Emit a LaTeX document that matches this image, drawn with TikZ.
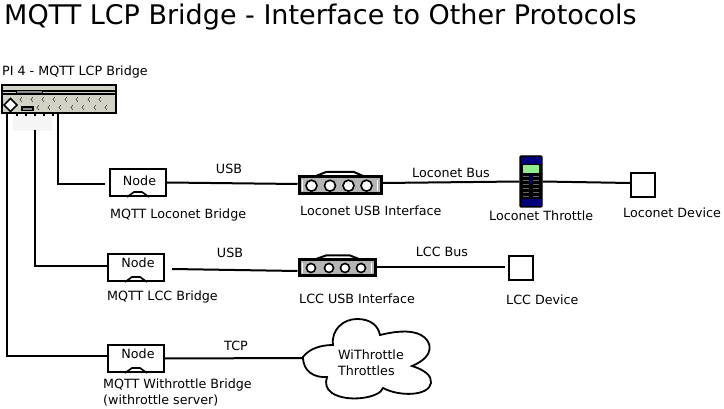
\documentclass[tikz,border=0pt]{standalone}
\usepackage{fontspec}
\setmainfont{DejaVu Sans}
\definecolor{panel}{HTML}{D3D3C5}
\definecolor{navy}{HTML}{00007F}
\definecolor{screen}{HTML}{90EE90}
\definecolor{mid}{HTML}{B4B4B4}
\tikzset{
  wire/.style={draw=black,line width=2pt},
  lbl/.style={inner sep=0pt,font=\fontsize{12.7pt}{16pt}\selectfont,text=black,align=left},
  nodebox/.style={draw=black,line width=2pt,fill=white,minimum width=56pt,minimum height=27pt,inner sep=0pt},
  devbox/.style={draw=black,line width=2pt,fill=white,minimum width=24pt,minimum height=24pt,inner sep=0pt},
  iface/.style={draw=black,line width=3pt,fill=mid,inner sep=0pt},
  hole/.style={draw=black,line width=1.6pt,fill=white,circle,minimum size=11pt,inner sep=0pt},
}
\newcommand{\notch}[1]{\draw[line width=1.6pt] ([xshift=-11pt]#1.south) -- ([xshift=-4pt,yshift=5pt]#1.south) -- ([xshift=4pt,yshift=5pt]#1.south) -- ([xshift=11pt]#1.south);}
\begin{document}
\begin{tikzpicture}[x=1pt,y=-1pt]
\useasboundingbox (0,0) rectangle (724,409);
\fill[white] (0,0) rectangle (724,409);
\node[anchor=west,inner sep=0pt,font=\fontsize{27pt}{32pt}\selectfont,text=black] (title) at (4,17.5) {MQTT LCP Bridge - Interface to Other Protocols};
\node[lbl,anchor=west] (pilabel) at (2,72) {PI 4 - MQTT LCP Bridge};
% shade under the Pi
\fill[black!4] (13,113) rectangle (52,131);
% nodes
\node[draw=black,line width=2pt,fill=panel,minimum width=114pt,minimum height=28pt,inner sep=0pt] (pi) at (59,99) {};
\node[nodebox] (n1) at (138,182.5) {};
\node[nodebox] (n2) at (136,267.5) {};
\node[nodebox] (n3) at (136,358.5) {};
\node[iface,minimum width=82pt,minimum height=17pt] (u1) at (340,185.5) {};
\node[iface,minimum width=76pt,minimum height=16pt] (u2) at (337,268) {};
\node[draw=black,line width=1.2pt,fill=black,rounded corners=1pt,minimum width=22pt,minimum height=51pt,inner sep=0pt] (thr) at (531,181.5) {};
\node[devbox] (d1) at (643,185) {};
\node[devbox] (d2) at (521,268) {};
\node[draw=none,inner sep=0pt,minimum width=130pt,minimum height=82pt] (cl) at (368,358) {};
% connectors
\coordinate (p1) at ([xshift=6pt]pi.south west);
\coordinate (p2) at (35,130);
\coordinate (p3) at ([xshift=57pt]pi.south west);
\coordinate (n1in) at (105,184);
\coordinate (n2in) at (172,269);
\coordinate (d2in) at (505,267);
\draw[wire] (p1) |- ([yshift=3pt]n3.west);
\draw[wire] (p2) |- ([yshift=1.5pt]n2.west);
\draw[wire] (p3) |- (n1in);
\draw[wire] (n1.east) -- ([yshift=1.5pt]u1.west);
\draw[wire] (n2in) -- ([yshift=-3pt]u2.west);
\draw[wire] (n3.east) -- (cl.west);
\draw[wire] ([yshift=2.5pt]u1.east) -- (thr.west);
\draw[wire] (thr.east) -- ([yshift=2pt]d1.west);
\draw[wire] ([yshift=1pt]u2.east) -- (d2in);
% Pi detail
\draw[line width=1.2pt] (2,91) -- (116,91);
\draw[line width=1.2pt] (2,94) -- (116,94);
\fill[black!45] (16,90.5) rectangle (42,93.5);
\draw[line width=.8pt] (16,90.5) rectangle (42,93.5);
\draw[line width=1.6pt,fill=white] (4,105) -- (10.5,98.5) -- (17,105) -- (10.5,111.5) -- cycle;
\draw[line width=1.2pt,fill=black!45] (22,107) rectangle (33,110.5);
\foreach \x in {20,31,42,53,65,76,88,99} \draw[line width=.6pt,black!70] (\x+2,97) -- (\x,99.5) -- (\x+2,102);
\foreach \x in {37,48,59,71,82,94,105} \draw[line width=.6pt,black!70] (\x+2,105) -- (\x,107.5) -- (\x+2,110);
\foreach \x in {16,25,34,43,52} \fill (\x,114) rectangle (\x+2,116);
% node notches
\notch{n1}\notch{n2}\notch{n3}
\node[lbl] (n1t) at (139.5,180.5) {Node};
\node[lbl] (n2t) at (138,263) {Node};
\node[lbl] (n3t) at (138,354) {Node};
% interfaces
\draw[line width=2pt] (316,176) -- (326,172) -- (354,172) -- (363,176);
\draw[line width=2pt] (316,259) -- (326,255.5) -- (350,255.5) -- (359,259);
\draw[white,line width=1pt] (302.5,180) -- (302.5,191) (377.5,180) -- (377.5,191);
\draw[white,line width=1pt] (302.5,263) -- (302.5,273) (371.5,263) -- (371.5,273);
\foreach \x/\n in {311.5/a,330/b,348.5/c,366.5/d} \node[hole] (h1\n) at (\x,185.7) {};
\foreach \x/\n in {311/a,329/b,345/c,361/d} \node[hole,minimum size=9pt] (h2\n) at (\x,268) {};
% throttle
\fill[navy] (521,157) rectangle (541,164);
\fill[navy] (521,199) rectangle (541,206);
\fill[screen] (523,165.5) rectangle (539,173);
\fill[navy] (530,175) rectangle (532,184);
\foreach \y in {176,180,184,188,192,196} {
  \draw[line width=.5pt,black!60!white] (523,\y) -- (529,\y);
  \draw[line width=.5pt,black!60!white] (533,\y) -- (539,\y);
}
% labels
\node[lbl] at (229,169) {USB};
\node[lbl] at (230,253) {USB};
\node[lbl] at (236,346) {TCP};
\node[lbl] at (451,173) {Loconet Bus};
\node[lbl] at (442,252) {LCC Bus};
\node[lbl,anchor=west] at (110,214.5) {MQTT Loconet Bridge};
\node[lbl,anchor=west] at (300,211) {Loconet USB Interface};
\node[lbl,anchor=west] at (489,216) {Loconet Throttle};
\node[lbl,anchor=west] at (623,213) {Loconet Device};
\node[lbl,anchor=west] at (107,297) {MQTT LCC Bridge};
\node[lbl,anchor=west] at (299,299) {LCC USB Interface};
\node[lbl,anchor=west] at (506,300) {LCC Device};
\node[lbl,anchor=north west] at (103,379) {MQTT Withrottle Bridge\\(withrottle server)};
% cloud
\draw[line width=1.8pt,fill=white] (303,357)
  .. controls (309,349) and (320,345) .. (333,345)
  .. controls (331,330) and (343,319) .. (357,319)
  .. controls (370,319) and (378,325) .. (380,335)
  .. controls (392,332) and (410,329) .. (421,335)
  .. controls (432,341) and (436,356) .. (412,366)
  .. controls (425,370) and (432,376) .. (431,383)
  .. controls (429,396) and (400,397) .. (383,388)
  .. controls (380,398) and (347,403) .. (332,393)
  .. controls (326,389) and (325,383) .. (327,377)
  .. controls (315,378) and (303,372) .. (303,357) -- cycle;
\node[lbl,align=left] (clt) at (371,362.5) {WiThrottle\\Throttles};
\end{tikzpicture}
\end{document}
